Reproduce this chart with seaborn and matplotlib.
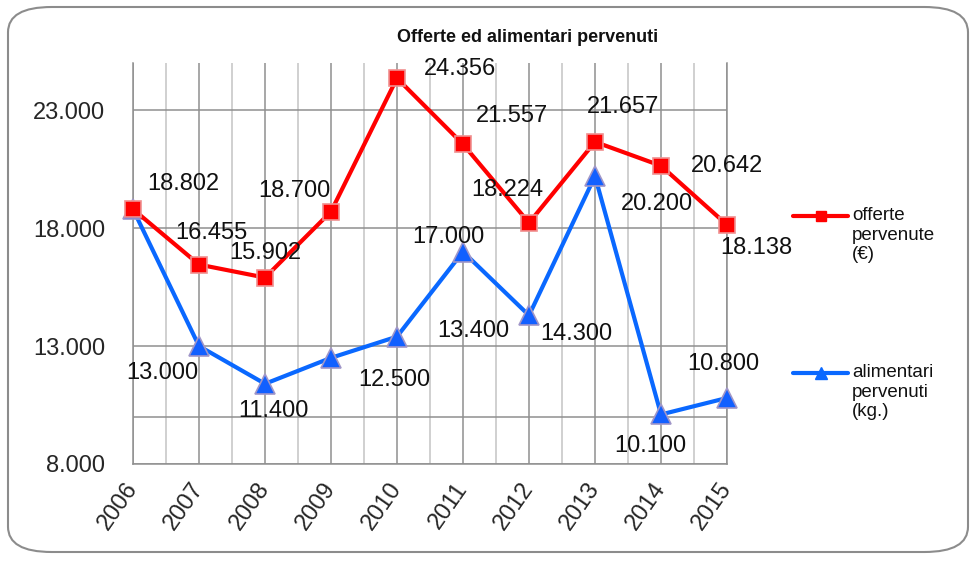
import matplotlib
matplotlib.use('Agg')
import matplotlib.pyplot as plt
import seaborn as sns
from matplotlib.ticker import FuncFormatter, FixedLocator, MultipleLocator
from matplotlib.lines import Line2D
from matplotlib.patches import FancyBboxPatch

# Data
years = [2006, 2007, 2008, 2009, 2010, 2011, 2012, 2013, 2014, 2015]
offerte = [18802, 16455, 15902, 18700, 24356, 21557, 18224, 21657, 20642, 18138]
alimentari = [18802, 13000, 11400, 12500, 13400, 17000, 14300, 20200, 10100, 10800]
alimentari_labelled = [False, True, True, True, True, True, True, True, True, True]
y_ticks = [8000, 13000, 18000, 23000]

# label offsets in pixels (dx, dy) relative to each point
off_red = [(50, 25), (12, 32), (0, 25), (-37, 21), (63, 9), (49, 28), (-22, 33), (28, 35), (66, 0), (29, -23)]
off_blue = [(0, 0), (-37, -27), (8, -27), (63, -22), (76, 6), (-15, 15), (47, -19), (62, -28), (-11, -32), (-4, 34)]

sns.set_style('white')
plt.rcParams['font.family'] = ['Liberation Sans', 'DejaVu Sans']


def fmt(v, pos=None):
    return f'{int(v):,}'.replace(',', '.')


fig = plt.figure(figsize=(9.71, 5.62), dpi=100)
ax = fig.add_axes([133 / 971, 98 / 562, (727 - 133) / 971, (464 - 63) / 562])

# frame round the chart
fig.patches.append(FancyBboxPatch((8 / 971, 10 / 562), 960 / 971, 545 / 562,
                                  boxstyle='round,pad=0,rounding_size=0.045',
                                  transform=fig.transFigure, facecolor='none',
                                  edgecolor='#8c8c8c', linewidth=1.5, zorder=0))

sns.lineplot(x=years, y=offerte, ax=ax, color='#ff0000', linewidth=3,
             marker='s', markersize=12, markerfacecolor='#ff0000',
             markeredgecolor='#f09090', markeredgewidth=1.2, clip_on=False, zorder=4)
sns.lineplot(x=years, y=alimentari, ax=ax, color='#0a68ff', linewidth=3,
             marker='^', markersize=14, markerfacecolor='#1260ff',
             markeredgecolor='#a096c8', markeredgewidth=1.2, clip_on=False, zorder=3)

for x, y, (dx, dy) in zip(years, offerte, off_red):
    ax.annotate(fmt(y), (x, y), xytext=(dx * 0.72, dy * 0.72), textcoords='offset points',
                ha='center', va='center', fontsize=17, color='#111111', zorder=6)
for x, y, (dx, dy), show in zip(years, alimentari, off_blue, alimentari_labelled):
    if show:
        ax.annotate(fmt(y), (x, y), xytext=(dx * 0.72, dy * 0.72), textcoords='offset points',
                    ha='center', va='center', fontsize=17, color='#111111', zorder=6)

ax.set_xlim(2006, 2015)
ax.set_ylim(8000, 25000)
ax.xaxis.set_major_locator(FixedLocator(years))
ax.xaxis.set_minor_locator(MultipleLocator(0.5))
ax.yaxis.set_major_locator(FixedLocator(y_ticks))
ax.yaxis.set_minor_locator(FixedLocator([10000]))
ax.yaxis.set_major_formatter(FuncFormatter(fmt))
ax.set_xticks(years)
ax.set_xticklabels([str(y) for y in years], rotation=55, ha='right', va='center',
                   rotation_mode='anchor', fontsize=17)
ax.tick_params(axis='x', which='both', length=0, pad=15)
ax.tick_params(axis='y', which='major', length=6, color='#8c8c8c', width=1.2,
               pad=14, labelsize=17)
ax.tick_params(axis='y', which='minor', length=0)

ax.grid(which='major', axis='both', color='#8f8f8f', linewidth=1.1)
ax.grid(which='minor', axis='x', color='#c4c4c4', linewidth=1.1)
ax.grid(which='minor', axis='y', color='#8f8f8f', linewidth=1.1)
ax.spines['top'].set_visible(False)
for side in ['left', 'right', 'bottom']:
    ax.spines[side].set_color('#8f8f8f')
    ax.spines[side].set_linewidth(1.1)
ax.set_xlabel('')
ax.set_ylabel('')

fig.text(528 / 971, 1 - 38 / 562, 'Offerte ed alimentari pervenuti',
         ha='center', va='center', fontsize=13, fontweight='bold', color='#111111')

# legend drawn by hand, one entry per series
for ly, col, mk, ms, label in [(216, '#ff0000', 's', 7, 'offerte\npervenute\n(€)'),
                               (373, '#0a68ff', '^', 8, 'alimentari\npervenuti\n(kg.)')]:
    yy = 1 - ly / 562
    fig.add_artist(Line2D([793 / 971, 821 / 971, 848 / 971], [yy, yy, yy],
                          transform=fig.transFigure, color=col, linewidth=3,
                          marker=mk, markersize=ms, markevery=[1],
                          markerfacecolor=col, markeredgecolor=col))
    fig.text(852 / 971, yy + 9 / 562, label, ha='left', va='top', fontsize=13.5,
             linespacing=1.2, color='#111111')

fig.savefig('out.png', dpi=100)
